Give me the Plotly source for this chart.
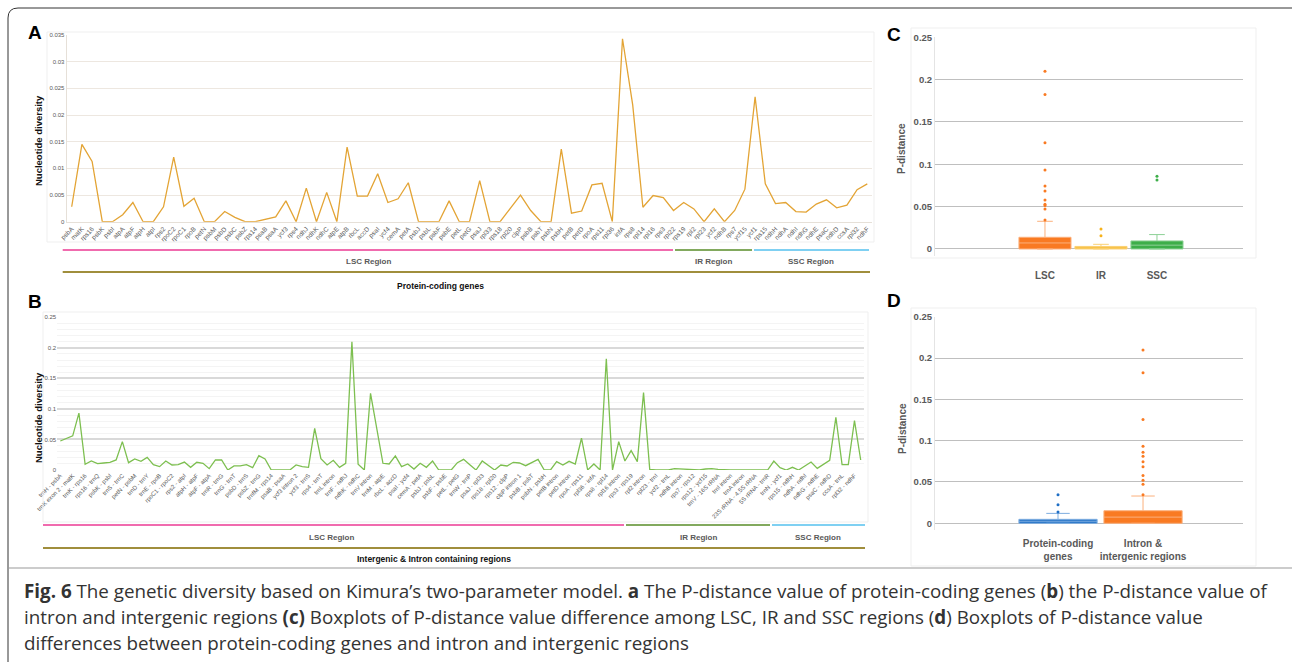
import plotly.graph_objects as go

W, H = 1292, 662


def fx(px):
    return px / W


def fy(py):
    return 1 - py / H


# ---------------- Panel A: protein-coding genes ----------------
genes_pc = ["psbA", "matK", "rps16", "psbK", "psbI", "atpA", "atpF", "atpH", "atpI", "rps2",
            "rpoC2", "rpoC1", "rpoB", "petN", "psbM", "psbD", "psbC", "psbZ", "rps14", "psaB",
            "psaA", "ycf3", "rps4", "ndhJ", "ndhK", "ndhC", "atpE", "atpB", "rbcL", "accD",
            "psaI", "ycf4", "cemA", "petA", "psbJ", "psbL", "psbF", "psbE", "petL", "petG",
            "psaJ", "rpl33", "rps18", "rpl20", "clpP", "psbB", "psbT", "psbN", "psbH", "petB",
            "petD", "rpoA", "rps11", "rpl36", "infA", "rps8", "rpl14", "rpl16", "rps3", "rpl22",
            "rps19", "rpl2", "rpl23", "ycf2", "ndhB", "rps7", "ycf15", "ycf1", "rps15", "ndhH",
            "ndhA", "ndhI", "ndhG", "ndhE", "psaC", "ndhD", "ccsA", "rpl32", "ndhF"]
pi_pc = [0.0028, 0.0145, 0.0113, 0.0, 0.0, 0.0013, 0.0036, 0.0, 0.0, 0.0028,
         0.0121, 0.0029, 0.0044, 0.0, 0.0, 0.0019, 0.0008, 0.0, 0.0, 0.0004,
         0.0009, 0.0039, 0.0, 0.0063, 0.0, 0.0055, 0.0, 0.0140, 0.0048, 0.0048,
         0.0090, 0.0036, 0.0043, 0.0073, 0.0, 0.0, 0.0, 0.0039, 0.0, 0.0,
         0.0077, 0.0, 0.0, 0.0025, 0.0050, 0.0021, 0.0, 0.0, 0.0136, 0.0016,
         0.0020, 0.0069, 0.0072, 0.0, 0.0343, 0.0219, 0.0027, 0.0049, 0.0045, 0.0021,
         0.0036, 0.0024, 0.0, 0.0024, 0.0, 0.0021, 0.0061, 0.0234, 0.0071, 0.0034,
         0.0036, 0.0019, 0.0018, 0.0033, 0.0041, 0.0026, 0.0031, 0.0060, 0.0071]
ticks_a = [0, 0.005, 0.01, 0.015, 0.02, 0.025, 0.03, 0.035]
ticktext_a = ["0", "0.005", "0.01", "0.015", "0.02", "0.025", "0.03", "0.035"]

# ---------------- Panel B: intergenic & intron regions ----------------
regions_ig = [
    "trnH - psbA", "psbA - trnK", "trnK exon 2 - matK", "matK - trnK", "trnK - rps16", "rps16 intron",
    "rps16 - trnQ", "trnQ - psbK", "psbK - psbI", "psbI - trnS", "trnS - trnC", "trnC - petN",
    "petN - psbM", "psbM - trnD", "trnD - trnY", "trnY - trnE", "trnE - rpoB", "rpoB - rpoC1",
    "rpoC1 - rpoC2", "rpoC2 - rps2", "rps2 - atpI", "atpI - atpH", "atpH - atpF", "atpF intron",
    "atpF - atpA", "atpA - trnR", "trnR - trnG", "trnG intron", "trnG - trnT", "trnT - psbD",
    "psbD - trnS", "trnS - psbZ", "psbZ - trnG", "trnG - trnfM", "trnfM - rps14", "rps14 - psaB",
    "psaB - psaA", "psaA - ycf3", "ycf3 intron 2", "ycf3 intron 1", "ycf3 - trnS", "trnS - rps4",
    "rps4 - trnT", "trnT - trnL", "trnL intron", "trnL - trnF", "trnF - ndhJ", "ndhJ - ndhK",
    "ndhK - ndhC", "ndhC - trnV", "trnV intron", "trnV - trnM", "trnM - atpE", "atpB - rbcL",
    "rbcL - accD", "accD - psaI", "psaI - ycf4", "ycf4 - cemA", "cemA - petA", "petA - psbJ",
    "psbJ - psbL", "psbL - psbF", "psbF - psbE", "psbE - petL", "petL - petG", "petG - trnW",
    "trnW - trnP", "trnP - psaJ", "psaJ - rpl33", "rpl33 - rps18", "rps18 - rpl20", "rpl20 - rps12",
    "rps12 - clpP", "clpP intron 2", "clpP intron 1", "clpP - psbB", "psbB - psbT", "psbT - psbN",
    "psbN - psbH", "psbH - petB", "petB intron", "petB - petD", "petD intron", "petD - rpoA",
    "rpoA - rps11", "rps11 - rpl36", "rpl36 - infA", "infA - rps8", "rps8 - rpl14", "rpl14 - rpl16",
    "rpl16 intron", "rpl16 - rps3", "rps3 - rps19", "rps19 - rpl2", "rpl2 intron", "rpl2 - rpl23",
    "rpl23 - trnI", "trnI - ycf2", "ycf2 - trnL", "trnL - ndhB", "ndhB intron", "ndhB - rps7",
    "rps7 - rps12", "rps12 intron", "rps12 - ycf15", "ycf15 - trnV", "trnV - 16S rRNA", "16S rRNA - trnI",
    "trnI intron", "trnI - trnA", "trnA intron", "trnA - 23S rRNA", "23S rRNA - 4.5S rRNA", "4.5S rRNA - 5S rRNA",
    "5S rRNA - trnR", "trnR - trnN", "trnN - ycf1", "ycf1 - rps15", "rps15 - ndhH", "ndhH - ndhA",
    "ndhA - ndhI", "ndhI - ndhG", "ndhG - ndhE", "ndhE - psaC", "psaC - ndhD", "ndhD - ccsA",
    "ccsA - trnL", "trnL - rpl32", "rpl32 - ndhF", "ndhF - trnN"]
pi_ig = [0.0475, 0.052, 0.056, 0.093, 0.0093, 0.0147, 0.0104, 0.0115, 0.0126, 0.0164,
         0.0464, 0.012, 0.018, 0.0142, 0.0207, 0.0087, 0.0055, 0.0147, 0.0082, 0.0087,
         0.013, 0.0044, 0.0126, 0.011, 0.0022, 0.0164, 0.0164, 0.0, 0.0066, 0.0066,
         0.0087, 0.0038, 0.0235, 0.018, 0.0, 0.0, 0.0, 0.0, 0.0082, 0.0055,
         0.0044, 0.068, 0.0186, 0.0082, 0.0158, 0.0044, 0.011, 0.21, 0.0093, 0.0,
         0.1256, 0.071, 0.011, 0.0098, 0.023, 0.0055, 0.0098, 0.0016, 0.011, 0.0044,
         0.0147, 0.0, 0.0, 0.0, 0.012, 0.0175, 0.0087, 0.0, 0.0147, 0.0071,
         0.0, 0.0082, 0.0066, 0.0126, 0.0115, 0.0071, 0.012, 0.0175, 0.0, 0.0,
         0.0136, 0.0082, 0.0142, 0.0098, 0.052, 0.0, 0.0098, 0.0, 0.182, 0.0,
         0.0464, 0.0147, 0.0317, 0.0136, 0.1267, 0.0011, 0.0, 0.0, 0.0, 0.0022,
         0.0016, 0.0, 0.0, 0.0, 0.0016, 0.0022, 0.0011, 0.0, 0.0, 0.0,
         0.0, 0.0011, 0.0, 0.0, 0.0, 0.0147, 0.0038, 0.0, 0.0044, 0.0,
         0.0071, 0.013, 0.0027, 0.0098, 0.0158, 0.0863, 0.0087, 0.0087, 0.081, 0.0164]
ticks_b = [0, 0.05, 0.1, 0.15, 0.2, 0.25]

# ---------------- Panel C: boxplots by region ----------------
box_c_names = ["LSC", "IR", "SSC"]
box_c_q1 = [0.0, 0.0, 0.0]
box_c_median = [0.0071, 0.0012, 0.0045]
box_c_q3 = [0.0138, 0.0030, 0.0095]
box_c_low = [0.0, 0.0, 0.0]
box_c_high = [0.0327, 0.0055, 0.0170]
out_c = {
    "LSC": [0.0343, 0.0472, 0.0512, 0.0528, 0.0579, 0.0685, 0.0744, 0.0933, 0.1256, 0.1823, 0.2098],
    "IR": [0.0155, 0.0236],
    "SSC": [0.0815, 0.0860],
}
colors_c = ["#F97A22", "#F7B21B", "#3DAE49"]
whisk_c = ["#FBB07C", "#FAD175", "#8DD196"]

# ---------------- Panel D: boxplots by type ----------------
box_d_names = ["Protein-coding genes", "Intron & intergenic regions"]
box_d_q1 = [0.0, 0.0]
box_d_median = [0.0025, 0.0075]
box_d_q3 = [0.0048, 0.0152]
box_d_low = [0.0, 0.0]
box_d_high = [0.0120, 0.0330]
out_d = {
    "Protein-coding genes": [0.0137, 0.0226, 0.0347],
    "Intron & intergenic regions": [0.0347, 0.0472, 0.0520, 0.0579, 0.0685, 0.0744, 0.0810,
                                    0.0860, 0.0933, 0.1256, 0.1823, 0.2098],
}
colors_d = ["#1F6FC5", "#F97A22"]
whisk_d = ["#7FAEE0", "#FBB07C"]

ticks_cd = [0, 0.05, 0.1, 0.15, 0.2, 0.25]
ticktext_cd = ["<b>0</b>", "<b>0.05</b>", "<b>0.1</b>", "<b>0.15</b>", "<b>0.2</b>", "<b>0.25</b>"]

FONT = "Liberation Sans, Arial, sans-serif"
GRAYTXT = "#595959"

fig = go.Figure()

fig.add_trace(go.Scatter(x=genes_pc, y=pi_pc, mode="lines", line=dict(color="#E3A435", width=1.3),
                         xaxis="x", yaxis="y", showlegend=False))
fig.add_trace(go.Scatter(x=regions_ig, y=pi_ig, mode="lines", line=dict(color="#7DBF50", width=1.3),
                         xaxis="x2", yaxis="y2", showlegend=False))

for i, nm in enumerate(box_c_names):
    fig.add_trace(go.Box(x=[nm], q1=[box_c_q1[i]], median=[box_c_median[i]], q3=[box_c_q3[i]],
                         lowerfence=[box_c_low[i]], upperfence=[box_c_high[i]],
                         fillcolor=colors_c[i], line=dict(color=whisk_c[i], width=1),
                         width=0.93, whiskerwidth=0.3, boxpoints=False,
                         xaxis="x3", yaxis="y3", showlegend=False))
    fig.add_trace(go.Scatter(x=[nm] * len(out_c[nm]), y=out_c[nm], mode="markers",
                             marker=dict(color=colors_c[i], size=3), xaxis="x3", yaxis="y3",
                             showlegend=False))

for i, nm in enumerate(box_d_names):
    fig.add_trace(go.Box(x=[nm], q1=[box_d_q1[i]], median=[box_d_median[i]], q3=[box_d_q3[i]],
                         lowerfence=[box_d_low[i]], upperfence=[box_d_high[i]],
                         fillcolor=colors_d[i], line=dict(color=whisk_d[i], width=1),
                         width=0.92, whiskerwidth=0.3, boxpoints=False,
                         xaxis="x4", yaxis="y4", showlegend=False))
    fig.add_trace(go.Scatter(x=[nm] * len(out_d[nm]), y=out_d[nm], mode="markers",
                             marker=dict(color=colors_d[i], size=3), xaxis="x4", yaxis="y4",
                             showlegend=False))

tickfont_a = dict(family=FONT, size=6.5, color=GRAYTXT)
tickfont_small = dict(family=FONT, size=6, color=GRAYTXT)

layout = dict(
    width=W, height=H, margin=dict(l=0, r=0, t=0, b=0, autoexpand=False),
    paper_bgcolor="white", plot_bgcolor="white", showlegend=False,
    xaxis=dict(domain=[fx(66.6), fx(872.4)], type="category", range=[-0.5, 78.5],
               tickangle=-45, tickfont=tickfont_a, showgrid=False, showline=True,
               linecolor="#E6E0D8", ticks="", anchor="y", categoryorder="array",
               categoryarray=genes_pc, automargin=False),
    yaxis=dict(domain=[fy(221.7), fy(35)], range=[0, 0.035], tickvals=ticks_a, ticktext=ticktext_a,
               tickfont=tickfont_small, gridcolor="#EDE7E0", gridwidth=1, zeroline=False,
               showline=True, linecolor="#E6E0D8", anchor="x", automargin=False),
    xaxis2=dict(domain=[fx(57.2), fx(863.8)], type="category", range=[-0.5, 129.5],
                tickangle=-45, tickfont=tickfont_small, showgrid=False, showline=False,
                tickvals=regions_ig[::2], ticktext=regions_ig[::2], ticks="", anchor="y2",
                categoryorder="array", categoryarray=regions_ig, automargin=False),
    yaxis2=dict(domain=[fy(470), fy(317.3)], range=[0, 0.25], tickvals=ticks_b,
                tickfont=tickfont_small, gridcolor="#D9D9D9", gridwidth=1.6, zeroline=False,
                minor=dict(dtick=0.01, showgrid=True, gridcolor="#F4F4F4", gridwidth=1),
                anchor="x2", automargin=False),
    xaxis3=dict(domain=[fx(935), fx(1243)], type="category", range=[-1.964, 3.536],
                tickvals=box_c_names, ticktext=["<b>" + n + "</b>" for n in box_c_names],
                tickfont=dict(family=FONT, size=10, color=GRAYTXT), showgrid=False,
                ticklabelstandoff=12, anchor="y3", categoryorder="array", categoryarray=box_c_names,
                automargin=False),
    yaxis3=dict(domain=[fy(256), fy(37.3)], range=[-0.0083, 0.25], tickvals=ticks_cd,
                ticktext=ticktext_cd, tickfont=dict(family=FONT, size=9.5, color=GRAYTXT),
                gridcolor="#BFBFBF", gridwidth=1.3, zeroline=False, showline=True,
                linecolor="#E4E4E4", anchor="x3", automargin=False),
    xaxis4=dict(domain=[fx(935), fx(1243)], type="category", range=[-1.447, 2.176],
                tickvals=box_d_names,
                ticktext=["<b>Protein-coding<br>genes</b>", "<b>Intron &<br>intergenic regions</b>"],
                tickfont=dict(family=FONT, size=10, color=GRAYTXT), showgrid=False,
                ticklabelstandoff=6, anchor="y4", categoryorder="array", categoryarray=box_d_names,
                automargin=False),
    yaxis4=dict(domain=[fy(530), fy(316.7)], range=[-0.0081, 0.25], tickvals=ticks_cd,
                ticktext=ticktext_cd, tickfont=dict(family=FONT, size=9.5, color=GRAYTXT),
                gridcolor="#BFBFBF", gridwidth=1.3, zeroline=False, showline=True,
                linecolor="#E4E4E4", anchor="x4", automargin=False),
)
fig.update_layout(**layout)

shapes = []
ann = []


def hline(x0, x1, y, color, width=2):
    shapes.append(dict(type="line", xref="paper", yref="paper", x0=fx(x0), x1=fx(x1),
                       y0=fy(y), y1=fy(y), line=dict(color=color, width=width)))


def rect(x0, y0, x1, y1, color, width=1):
    shapes.append(dict(type="rect", xref="paper", yref="paper", x0=fx(x0), x1=fx(x1),
                       y0=fy(y1), y1=fy(y0), line=dict(color=color, width=width)))


def text(x, y, s, size, color="#222", bold=False, angle=0, xanchor="center", family=FONT):
    ann.append(dict(xref="paper", yref="paper", x=fx(x), y=fy(y), text=("<b>%s</b>" % s) if bold else s,
                    showarrow=False, textangle=angle, xanchor=xanchor, yanchor="middle",
                    font=dict(family=family, size=size, color=color)))


PINK, IRG, SSCB, OLIVE = "#F06BAE", "#82A95E", "#7FD0F2", "#A08E3C"

# chart frames
rect(47, 32, 874, 242, "#EFEFEF")
rect(43, 312, 868, 522, "#EFEFEF")
rect(911, 28, 1256, 258, "#EFEFEF")
rect(911, 308, 1256, 566, "#EFEFEF")

# Panel A regions
hline(62.7, 673, 250, PINK)
hline(675, 752, 250, IRG)
hline(754, 869, 250, SSCB)
text(368, 262, "LSC Region", 8, GRAYTXT, True)
text(713, 262, "IR Region", 8, GRAYTXT, True)
text(811, 262, "SSC Region", 8, GRAYTXT, True)
hline(62.7, 870, 272, OLIVE)
text(440, 286, "Protein-coding genes", 8.5, "#111", True)

# Panel B regions
hline(43, 624, 525, PINK)
hline(626, 770, 525, IRG)
hline(772, 865, 525, SSCB)
text(331, 537, "LSC Region", 8, GRAYTXT, True)
text(698, 537, "IR Region", 8, GRAYTXT, True)
text(818, 537, "SSC Region", 8, GRAYTXT, True)
hline(43, 865, 548, OLIVE)
text(434, 559, "Intergenic &amp; Intron containing regions", 8.5, "#111", True)

# axis titles
text(38, 141, "Nucleotide diversity", 9.5, "#111", True, -90)
text(38, 418, "Nucleotide diversity", 9.5, "#111", True, -90)
text(902, 149, "P-distance", 10, GRAYTXT, True, -90)
text(902, 429, "P-distance", 10, GRAYTXT, True, -90)

# panel letters
text(35, 32, "A", 19, "#000", True)
text(35, 301, "B", 19, "#000", True)
text(894, 34, "C", 19, "#000", True)
text(894, 300, "D", 19, "#000", True)

# outer frame & caption separator
shapes.append(dict(type="path", xref="paper", yref="paper",
                   path="M %f %f L %f %f Q %f %f %f %f L %f %f" % (
                       fx(8), fy(662), fx(8), fy(18), fx(8), fy(8), fx(18), fy(8), fx(1292), fy(8)),
                   line=dict(color="#333", width=1)))
hline(8, 1292, 568, "#999", 1)

CAP = "Open Sans, Noto Sans, sans-serif"
text(22, 591, "<b>Fig. 6</b> The genetic diversity based on Kimura’s two-parameter model. <b>a</b> The P-distance value of protein-coding genes (<b>b</b>) the P-distance value of",
     18.8, "#333", False, 0, "left", CAP)
text(22, 617, "intron and intergenic regions <b>(c)</b> Boxplots of P-distance value difference among LSC, IR and SSC regions (<b>d</b>) Boxplots of P-distance value",
     18.8, "#333", False, 0, "left", CAP)
text(22, 643, "differences between protein-coding genes and intron and intergenic regions",
     18.8, "#333", False, 0, "left", CAP)

fig.update_layout(shapes=shapes, annotations=ann)
fig.write_html("out.html")
